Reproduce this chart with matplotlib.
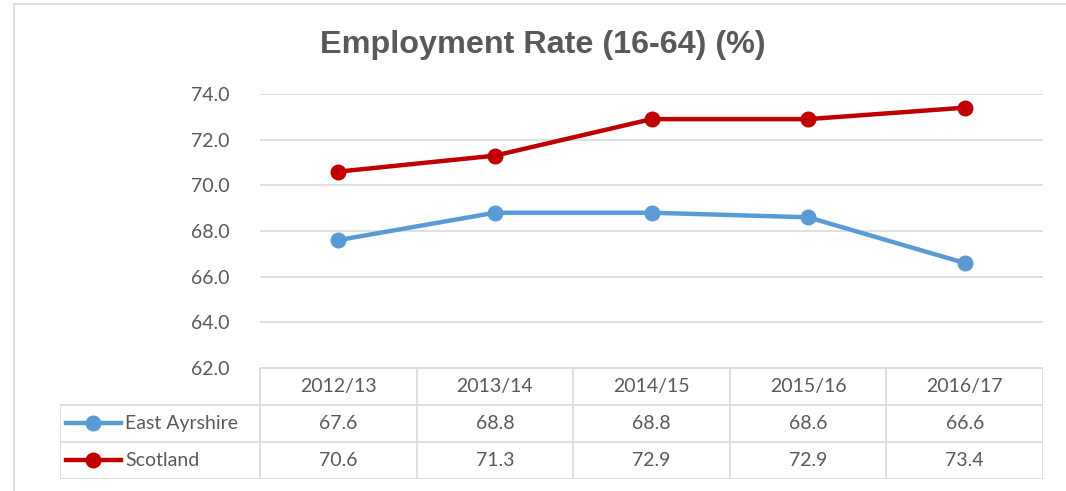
"""
Employment Rate (16-64) chart with data table underneath.
"""

import matplotlib.pyplot as plt
from matplotlib.lines import Line2D
import numpy as np

# data
years = ['2012/13', '2013/14', '2014/15', '2015/16', '2016/17']
series_names = ['East Ayrshire', 'Scotland']
east_ayrshire = [67.6, 68.8, 68.8, 68.6, 66.6]
scotland = [70.6, 71.3, 72.9, 72.9, 73.4]
y_ticks = [62, 64, 66, 68, 70, 72, 74]

colors = ['#5B9BD5', '#C00000']
grid_col = '#D9D9D9'
text_col = '#595959'

plt.rcParams['font.family'] = ['Lato', 'DejaVu Sans']

W, H = 1066, 491
fig = plt.figure(figsize=(W / 100, H / 100), dpi=100)


def px_rect(x0, y0, x1, y1):
    # pixel box (top-left origin) -> figure fraction rect
    return [x0 / W, 1 - y1 / H, (x1 - x0) / W, (y1 - y0) / H]


# outer chart frame (only top and left edges are visible)
fig.add_artist(Line2D([14 / W, 14 / W], [0, 1 - 4 / H], color=grid_col, lw=1.2))
fig.add_artist(Line2D([14 / W, 1], [1 - 4 / H, 1 - 4 / H], color=grid_col, lw=1.2))

# main plot
ax = fig.add_axes(px_rect(260, 94, 1043, 368))
x = np.arange(len(years))
for vals, col in zip([east_ayrshire, scotland], colors):
    ax.plot(x, vals, color=col, lw=3.2, marker='o', markersize=10.5, zorder=3)

ax.set_xlim(-0.5, len(years) - 0.5)
ax.set_ylim(min(y_ticks), max(y_ticks))
ax.set_yticks(y_ticks)
ax.set_yticklabels([f'{v:.1f}' for v in y_ticks])
ax.set_xticks([])
ax.tick_params(axis='y', length=0, pad=22, labelsize=14, labelcolor=text_col)
for s in ax.spines.values():
    s.set_visible(False)
ax.grid(True, axis='y', color=grid_col, lw=1.2)
ax.set_axisbelow(True)

fig.text(543 / W, 1 - 45 / H, 'Employment Rate (16-64) (%)', ha='center', va='center',
         fontsize=23.3, fontweight='bold', color=text_col, family='Liberation Sans')

# data table
tab = fig.add_axes(px_rect(60, 368, 1043, 479))
unit = 783 / len(years)
left = -0.5 - 200 / unit
tab.set_xlim(left, len(years) - 0.5)
tab.set_ylim(3, 0)
tab.axis('off')

lw = 1.2
# horizontal rules
tab.plot([-0.5, len(years) - 0.5], [0, 0], color=grid_col, lw=lw)
for r in [1, 2, 3]:
    tab.plot([left, len(years) - 0.5], [r, r], color=grid_col, lw=lw)
# vertical rules
for c in range(len(years) + 1):
    tab.plot([c - 0.5, c - 0.5], [0, 3], color=grid_col, lw=lw)
tab.plot([left, left], [1, 3], color=grid_col, lw=lw)

for i, yr in enumerate(years):
    tab.text(i, 0.5, yr, ha='center', va='center', fontsize=14, color=text_col)

for r, (name, vals, col) in enumerate(zip(series_names, [east_ayrshire, scotland], colors)):
    yc = r + 1.5
    tab.plot([left + 6 / unit, left + 61 / unit], [yc, yc], color=col, lw=3.2)
    tab.plot([left + 33 / unit], [yc], color=col, marker='o', markersize=10.5)
    tab.text(left + 65 / unit, yc, name, ha='left', va='center', fontsize=14, color=text_col)
    for i, v in enumerate(vals):
        tab.text(i, yc, f'{v:.1f}', ha='center', va='center', fontsize=14, color=text_col)

fig.savefig('out.png', dpi=100)
